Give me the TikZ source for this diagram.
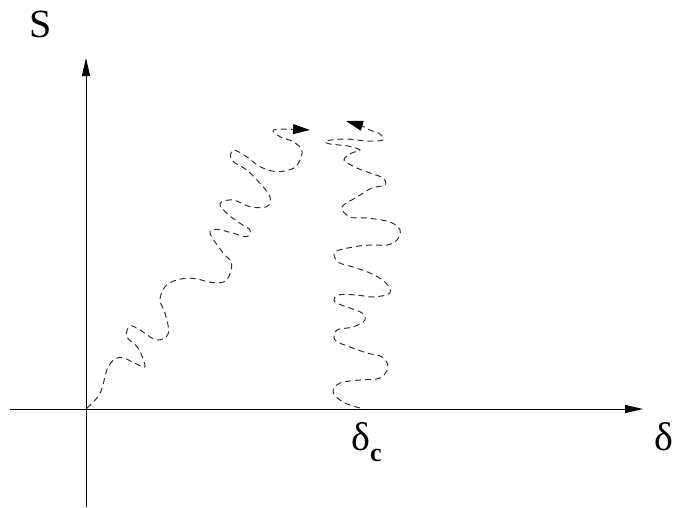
\documentclass[tikz,border=0pt]{standalone}
\usepackage{fontspec}
\setmainfont{Liberation Serif}
\usetikzlibrary{arrows.meta}

\begin{document}
\begin{tikzpicture}[
  x=1pt, y=-1pt, >={Triangle[length=18pt,width=8pt]},
  axis/.style={draw, line width=1pt, ->},
  walk/.style={draw=black!80, line width=1pt, dash pattern=on 6pt off 4pt,
    -{Triangle[length=17pt,width=10pt,black]}},
  lbl/.style={inner sep=0pt, font=\fontsize{40}{44}\selectfont},
]
  \useasboundingbox (0,0) rectangle (673,507);

  % axes
  \coordinate (o) at (86,409);
  \coordinate (xend) at (643,409);
  \coordinate (xstart) at (10,409);
  \coordinate (yend) at (86,58);
  \coordinate (ystart) at (86,507);
  \draw[axis] (xstart) -- (xend);
  \draw[axis] (ystart) -- (yend);

  \node[lbl] (S) at (41,24) {S};
  \node[lbl] (delta) at (664,437) {δ};
  \node[lbl, anchor=base west] (deltac) at (351,450)
    {δ\raisebox{-11pt}{\fontsize{26}{28}\selectfont\bfseries c}};

  % rising walk from the origin
  \draw[walk] plot[smooth, tension=0.6] coordinates {
    (86.7,408.3) (100,393.3) (108.3,366.7) (120,357.3) (135,363.3)
    (145,366.7) (138.3,348.3) (126.7,336.7) (130,326) (140,330)
    (156.7,340) (168.3,333.3) (165,313) (160,300) (165,286.7)
    (176.7,280) (193.3,278.3) (213.3,282.7) (226.7,280) (231.7,263.3)
    (223.3,253.3) (210,233.3) (216.7,229.3) (233.3,233.3) (246.7,236.7)
    (250,230) (240,223.3) (226.7,213.3) (220,203.3) (233.3,200)
    (250,206.7) (266.7,206.7) (270,196.7) (260,183.3) (246.7,170)
    (231.7,160) (233.3,150) (246.7,156.7) (260,166.7) (276.7,171.7)
    (293.3,168.3) (300,160) (301.7,150) (293.3,141.7) (280,136.7)
    (273.3,130) (290,129.3) (310,130)};

  % rising walk from delta_c
  \draw[walk] plot[smooth, tension=0.6] coordinates {
    (360,408) (343,402) (333,392) (340,383) (360,380)
    (380,378) (388,367) (382,357) (367,353) (350,347)
    (335,340) (337,330) (353,327) (365,320) (362,313)
    (350,308) (335,302) (338,295) (357,295) (373,297)
    (390,293) (385,282) (370,273) (353,267) (338,262)
    (335,252) (353,247) (370,245) (387,245) (397,240)
    (400,230) (390,222) (367,218) (350,217) (342,207)
    (357,197) (372,188) (385,185) (383,178) (370,173)
    (357,168) (344,160) (352,153) (360,150) (348,146)
    (330,144) (326,141) (345,139) (368,141) (383,140)
    (380,134) (370,130) (362,126) (346,121)};
\end{tikzpicture}
\end{document}
